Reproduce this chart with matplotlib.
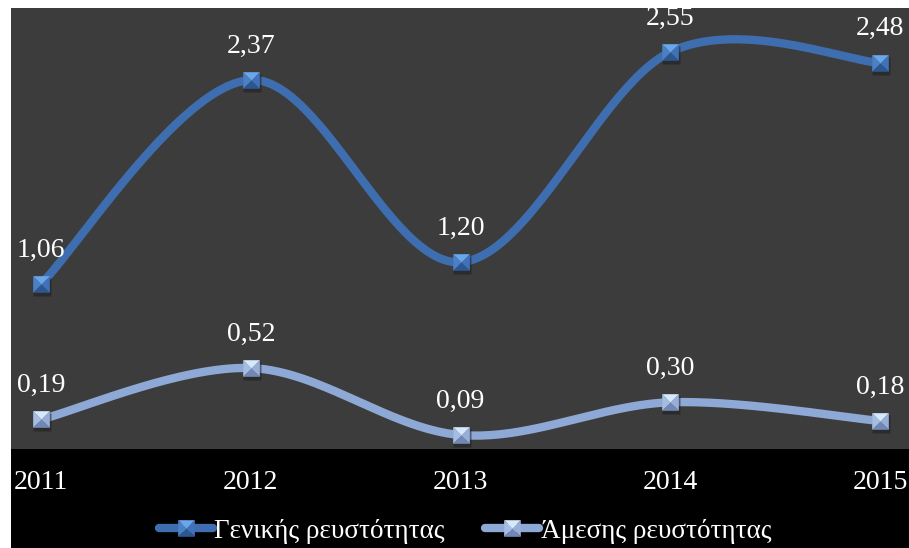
import numpy as np
import matplotlib
matplotlib.use("Agg")
import matplotlib.pyplot as plt
import matplotlib.transforms as mtransforms
from matplotlib.path import Path
from matplotlib.lines import Line2D
from matplotlib.patches import Rectangle
from matplotlib.legend_handler import HandlerTuple

years = [2011, 2012, 2013, 2014, 2015]
general_liquidity = [1.06, 2.37, 1.20, 2.55, 2.48]
quick_liquidity = [0.19, 0.52, 0.09, 0.30, 0.18]
series_names = ["Γενικής ρευστότητας", "Άμεσης ρευστότητας"]

W, H = 909, 548
fig = plt.figure(figsize=(W / 100, H / 100), dpi=100, facecolor="white")
plt.rcParams["font.family"] = ["Liberation Serif", "DejaVu Serif"]

# black band for the category labels and the legend
fig.patches.append(Rectangle((11 / W, 0), 898 / W, 99 / H, transform=fig.transFigure,
                             facecolor="black", edgecolor="none", zorder=-1))

ax = fig.add_axes([11 / W, 99 / H, 898 / W, 441 / H])
ax.set_facecolor("#3c3c3c")
for s in ax.spines.values():
    s.set_visible(False)


def smooth(xs, ys, n=60):
    """Catmull-Rom style Bezier smoothing, as used for smoothed line charts."""
    p = np.column_stack([xs, ys]).astype(float)
    m = len(p)
    out = []
    for i in range(m - 1):
        p0 = p[max(i - 1, 0)]
        p1 = p[i]
        p2 = p[i + 1]
        p3 = p[min(i + 2, m - 1)]
        c1 = p1 + (p2 - p0) / 6
        c2 = p2 - (p3 - p1) / 6
        t = np.linspace(0, 1, n)[:, None]
        seg = ((1 - t) ** 3) * p1 + 3 * ((1 - t) ** 2) * t * c1 + 3 * (1 - t) * t ** 2 * c2 + t ** 3 * p2
        out.append(seg if i == 0 else seg[1:])
    out = np.vstack(out)
    return out[:, 0], out[:, 1]


# bevelled square marker built from four triangles
tri_top = Path([(-1, 1), (1, 1), (0, 0), (-1, 1)])
tri_bot = Path([(-1, -1), (1, -1), (0, 0), (-1, -1)])
tri_left = Path([(-1, -1), (-1, 1), (0, 0), (-1, -1)])
tri_right = Path([(1, -1), (1, 1), (0, 0), (1, -1)])

styles = [
    dict(line="#3e6eaf", top="#6aa6ea", side="#3f72b8", bot="#2c5690", left="#4b80c4"),
    dict(line="#8ea9d6", top="#d6e8fb", side="#97afd8", bot="#7188b4", left="#a5bde2"),
]

ms = 12


def marker_parts(st):
    return [(tri_bot, st["bot"]), (tri_left, st["left"]),
            (tri_right, st["side"]), (tri_top, st["top"])]


shadow = ax.transData + mtransforms.ScaledTranslation(1 / 100, -3 / 100, fig.dpi_scale_trans)

for vals, st in zip([general_liquidity, quick_liquidity], styles):
    sx, sy = smooth(years, vals)
    ax.plot(sx, sy, color=st["line"], lw=6, solid_capstyle="round", zorder=3)
    # soft drop shadow under markers
    ax.plot(years, vals, ls="none", marker="s", ms=ms + 1, mfc="#1e1e1e", mec="none",
            alpha=0.55, zorder=3.5, transform=shadow)
    for mk, c in marker_parts(st):
        ax.plot(years, vals, ls="none", marker=mk, ms=ms, mfc=c, mec="none", zorder=4)
    for x, v in zip(years, vals):
        ax.annotate(f"{v:.2f}".replace(".", ","), (x, v), xytext=(0, 24.5), textcoords="offset points",
                    ha="center", va="center", color="white", fontsize=20, zorder=5)

ax.set_xlim(2011 - 30 / 209.75, 2015 + 29 / 209.75)
ax.set_ylim(0, 441 / 155.7)
ax.set_yticks([])
ax.set_xticks(years)
ax.set_xticklabels([str(y) for y in years])
ax.tick_params(axis="x", length=0, pad=15, labelcolor="white", labelsize=20)

# legend handles: thick line with the bevelled marker in the middle
handles = []
for st in styles:
    ln = Line2D([], [], color=st["line"], lw=6, solid_capstyle="round")
    parts = [Line2D([], [], ls="none", marker=mk, ms=ms, mfc=c, mec="none")
             for mk, c in marker_parts(st)]
    handles.append(tuple([ln] + parts))

leg = fig.legend(handles, series_names, loc="center", bbox_to_anchor=(465 / W, 1 - 531 / H),
                 ncol=2, frameon=False, fontsize=19.5, labelcolor="white",
                 handler_map={tuple: HandlerTuple(ndivide=1, pad=0)},
                 handlelength=2.0, handletextpad=0.05, columnspacing=1.5)

fig.savefig("out.png", dpi=100, facecolor="white")
